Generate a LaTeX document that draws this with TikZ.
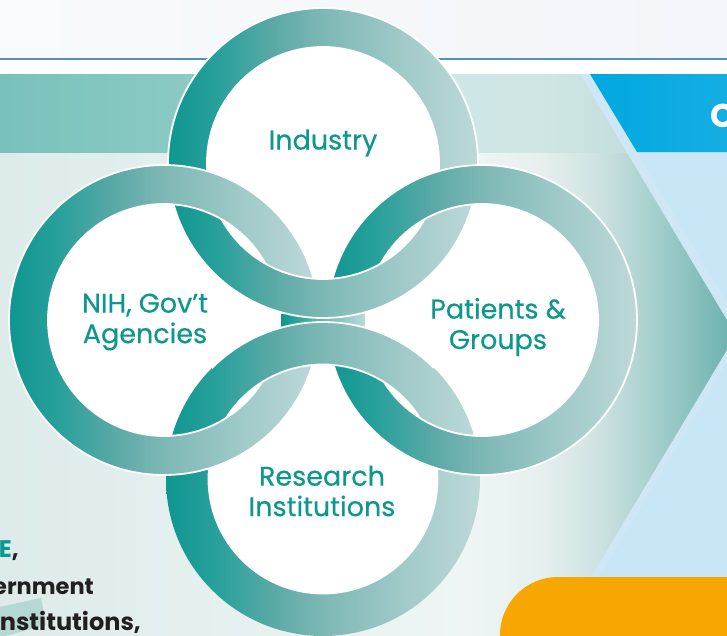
\documentclass[tikz,border=0pt]{standalone}
\usepackage{fontspec}
\newfontfamily\lab[FakeBold=0.4]{Poppins}
\newfontfamily\bld{Poppins}
\definecolor{teal1}{HTML}{0F9690}
\definecolor{teal2}{HTML}{28A09B}
\definecolor{teal3}{HTML}{5AA9A6}
\definecolor{teal4}{HTML}{7DB8B5}
\definecolor{teal5}{HTML}{9EC9C7}
\definecolor{teal6}{HTML}{BDD9D8}
\definecolor{labelcol}{HTML}{0C978F}
\definecolor{inkcol}{HTML}{231F20}
\definecolor{linecol}{HTML}{4F94B8}
\definecolor{skyhead}{HTML}{00A8E0}
\definecolor{skyheadb}{HTML}{1DB0E3}
\definecolor{skyfill}{HTML}{C9E6F7}
\definecolor{stripea}{HTML}{CFE6F5}
\definecolor{stripeb}{HTML}{F1F8FD}
\definecolor{orangecol}{HTML}{F7A800}
\definecolor{patchcol}{HTML}{B5D8D5}
\definecolor{topa}{HTML}{F8FAFD}
\definecolor{topb}{HTML}{FFFFFF}
\definecolor{topc}{HTML}{F2F5F9}
\definecolor{banda}{HTML}{78C2BB}
\definecolor{bandb}{HTML}{8CCAC4}
\definecolor{bandc}{HTML}{CFE6E7}
\definecolor{bandd}{HTML}{D0E6E4}
\definecolor{bande}{HTML}{B5D6D5}
\definecolor{lowa}{HTML}{DDEBEA}
\definecolor{lowb}{HTML}{EFF5F5}
\definecolor{lowc}{HTML}{E6F0EF}
\definecolor{lowd}{HTML}{CFE3E2}
\definecolor{lowe}{HTML}{B0D4D2}
\definecolor{lowf}{HTML}{6FB3B0}
\pgfdeclarehorizontalshading{ringgrad}{100bp}{color(0bp)=(teal1); color(25bp)=(teal1); color(33bp)=(teal2); color(42bp)=(teal3); color(50bp)=(teal4); color(62bp)=(teal5); color(75bp)=(teal6); color(100bp)=(teal6)}
\pgfdeclarehorizontalshading{bandgrad}{100bp}{color(0bp)=(banda); color(25bp)=(banda); color(38bp)=(bandb); color(56bp)=(bandc); color(62bp)=(bandd); color(75bp)=(bande); color(100bp)=(bande)}
\pgfdeclarehorizontalshading{lowgrad}{100bp}{color(0bp)=(lowa); color(25bp)=(lowa); color(57bp)=(lowb); color(62bp)=(lowc); color(66bp)=(lowd); color(69bp)=(lowe); color(75bp)=(lowf); color(100bp)=(lowf)}
\tikzset{
  ringedge/.style={draw=white,line width=1.8pt},
  ringlabel/.style={text=labelcol,font=\lab\fontsize{27}{30.5}\selectfont,align=center,inner sep=0pt},
  bodytext/.style={text=inkcol,font=\bld\bfseries\fontsize{24}{26}\selectfont,inner sep=0pt,anchor=base east},
}
\newcommand{\ringfill}[3]{\shade[shading=ringgrad,even odd rule] (#1) circle[radius=#3pt] (#1) circle[radius=#2pt];}
\newcommand{\ringlines}[3]{\draw[ringedge] (#1) circle[radius=#3pt] (#1) circle[radius=#2pt];}
\begin{document}
\begin{tikzpicture}[x=1pt,y=-1pt]
\useasboundingbox (0,0) rectangle (727,635);
\clip (0,0) rectangle (727,635);
\fill[white] (0,0) rectangle (727,635);
\coordinate (ct) at (323,163);
\coordinate (cl) at (164,320);
\coordinate (cr) at (482,320);
\coordinate (cb) at (323,479);
% background
\shade[left color=topa,middle color=topb,right color=topc] (0,0) rectangle (727,58);
\draw[linecol,line width=1.3pt] (0,59) -- (727,59);
\shade[shading=lowgrad] (0,152) rectangle (727,635);
\shade[shading=bandgrad] (0,74) rectangle (727,152);
% chevron
\shade[top color=stripea,middle color=stripeb,bottom color=stripea] (580,74) -- (736,335) -- (591,577) -- (780,577) -- (780,74) -- cycle;
\fill[skyfill] (590,74) -- (745,333) -- (599,577) -- (780,577) -- (780,74) -- cycle;
\shade[left color=skyhead,right color=skyheadb] (590,74) -- (637,152) -- (780,152) -- (780,74) -- cycle;
\node[anchor=base west,text=white,font=\bld\bfseries\fontsize{33}{33}\selectfont,inner sep=0pt] (head) at (710,127) {C};
\fill[orangecol,rounded corners=58pt] (500,760) -- (500,577) -- (900,577) -- (900,760) -- cycle;
% bottom-left text
\fill[patchcol] (-10,609) -- (41,598) -- (46,625) -- (-10,640) -- cycle;
\node[bodytext] (t1) at (19,557) {\textcolor{labelcol}{E},};
\node[bodytext,font=\bld\bfseries\fontsize{22.5}{26}\selectfont] (t2) at (94,594) {ernment};
\node[bodytext] (t3) at (141,630) {nstitutions,};
% white discs
\fill[white] (ct) circle[radius=155pt] (cl) circle[radius=155pt] (cr) circle[radius=155pt] (cb) circle[radius=157pt];
% lower layer
\ringfill{ct}{116}{155}
\ringlines{ct}{116}{155}
\ringfill{cb}{114.5}{157}
\draw[ringedge] (cb) circle[radius=114.5pt];
% upper layer
\ringfill{cl}{116}{155}
\ringlines{cl}{116}{155}
\ringfill{cr}{116}{155}
\ringlines{cr}{116}{155}
% central patch
\fill[white] (280.5,300) rectangle (365.5,340);
\shade[left color=teal1,middle color=white,right color=teal6] (281,314) rectangle (365,327);
% interlocks
\begin{scope}
\clip (cl) -- (ct) -- (cr) -- (323,520) -- cycle;
\ringfill{ct}{116}{155}
\ringlines{ct}{116}{155}
\end{scope}
\begin{scope}
\clip (cl) -- (cb) -- (cr) -- (323,120) -- cycle;
\ringfill{cb}{114.5}{157}
\ringlines{cb}{114.5}{157}
\end{scope}
% labels
\node[ringlabel] (industry) at (323,143) {Industry};
\node[ringlabel] (nih) at (145,322) {NIH, Gov’t\\Agencies};
\node[ringlabel] (patients) at (498,327) {Patients \&\\Groups};
\node[ringlabel] (research) at (322,491) {Research\\Institutions};
\end{tikzpicture}
\end{document}
